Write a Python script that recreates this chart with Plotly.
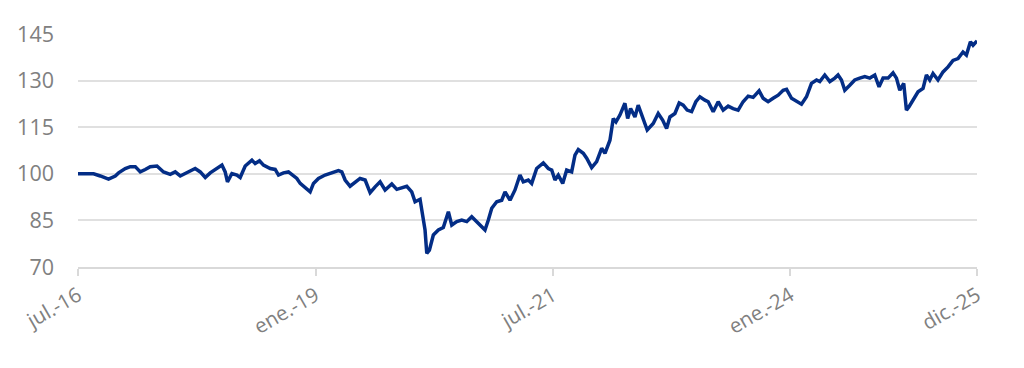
import pandas as pd
import plotly.graph_objects as go

start_date = "2016-07-01"
# months elapsed since jul.-16 for each reading
months = [0, 1.55, 1.97, 2.82, 3.86, 4.71, 5.13, 5.97, 6.61, 7.24, 7.87, 8.50, 9.13, 9.98,
          10.81, 11.66, 12.29, 12.92, 13.77, 14.81, 15.45, 16.08, 16.71, 17.56, 18.19, 18.60,
          18.89, 19.45, 20.08, 20.50, 21.13, 21.98, 22.39, 22.94, 23.44, 24.29, 24.92, 25.34,
          25.97, 26.60, 27.03, 27.66, 28.08, 28.71, 29.34, 29.76, 30.39, 31.23, 32.08, 32.91,
          33.34, 33.76, 34.39, 35.02, 35.65, 36.29, 36.92, 37.55, 38.18, 38.81, 39.66, 40.29,
          40.92, 41.55, 42.18, 42.60, 43.23, 43.57, 43.86, 44.08, 44.41, 44.91, 45.54, 46.17,
          46.81, 47.24, 47.87, 48.50, 49.13, 49.76, 50.18, 50.81, 51.44, 51.86, 52.29, 52.92,
          53.55, 53.97, 54.60, 55.23, 55.86, 56.28, 56.91, 57.34, 57.97, 58.81, 59.44, 59.87,
          60.28, 60.70, 61.26, 61.76, 62.39, 62.81, 63.23, 63.86, 64.29, 64.92, 65.55, 66.18,
          66.60, 67.23, 67.65, 67.99, 68.49, 69.12, 69.47, 69.84, 70.39, 70.80, 71.44, 71.94,
          72.70, 73.33, 73.89, 74.39, 74.81, 75.44, 75.98, 76.49, 76.99, 77.55, 78.09, 78.60,
          79.23, 79.65, 80.28, 80.91, 81.54, 82.17, 82.80, 83.43, 84.06, 84.70, 85.33, 86.08,
          86.59, 87.22, 87.85, 88.49, 89.12, 89.55, 90.18, 90.81, 91.44, 92.07, 92.70, 93.34,
          93.75, 94.38, 95.02, 95.65, 96.06, 96.49, 96.91, 97.54, 98.17, 98.80, 99.44, 100.07,
          100.70, 101.24, 101.75, 102.38, 103.01, 103.44, 103.86, 104.36, 104.70, 105.03,
          105.54, 106.17, 106.80, 107.23, 107.65, 108.06, 108.69, 109.33, 109.96, 110.59,
          111.22, 111.85, 112.28, 112.79, 113.12, 113.62]
values = [100.0, 100.0, 100.0, 99.3, 98.3, 99.3, 100.3, 101.7, 102.3, 102.3, 100.6, 101.4,
          102.3, 102.5, 100.6, 99.8, 100.6, 99.3, 100.3, 101.7, 100.6, 98.8, 100.3, 101.7,
          102.8, 100.6, 97.4, 100.1, 99.6, 98.8, 102.5, 104.4, 103.3, 104.2, 102.8, 101.7,
          101.4, 99.6, 100.3, 100.6, 99.6, 98.5, 96.9, 95.6, 94.2, 96.9, 98.5, 99.6, 100.3,
          101.0, 100.6, 98.0, 96.0, 97.4, 98.5, 98.0, 93.9, 95.8, 97.4, 94.8, 96.7, 95.0,
          95.6, 96.0, 94.2, 91.0, 91.8, 86.7, 81.9, 74.4, 75.4, 80.3, 81.9, 82.7, 87.8, 83.5,
          84.6, 85.1, 84.6, 86.2, 85.1, 83.5, 81.9, 85.1, 88.9, 91.0, 91.5, 94.2, 91.5, 94.8,
          99.6, 97.4, 98.0, 96.9, 101.7, 103.5, 101.7, 101.2, 98.0, 99.6, 96.9, 101.2, 100.6,
          106.0, 107.8, 106.6, 105.0, 102.0, 103.9, 108.2, 106.6, 110.8, 117.8, 116.7, 118.9,
          122.7, 117.8, 121.0, 118.3, 122.1, 117.8, 114.1, 116.2, 119.4, 117.3, 114.6, 118.3,
          119.4, 122.8, 122.1, 120.5, 120.0, 123.2, 124.8, 123.7, 123.2, 120.0, 123.2, 120.5,
          121.8, 121.0, 120.5, 123.2, 125.0, 124.6, 126.7, 124.3, 123.2, 124.3, 125.3, 126.9,
          127.2, 124.3, 123.2, 122.4, 124.8, 129.1, 130.2, 129.7, 131.8, 129.7, 130.8, 131.8,
          130.2, 126.9, 128.5, 130.2, 130.8, 131.3, 130.8, 131.8, 128.0, 130.8, 130.8, 132.5,
          130.8, 126.9, 129.1, 120.5, 121.6, 123.7, 126.4, 127.5, 131.8, 130.2, 132.3, 130.2,
          132.8, 134.4, 136.5, 137.1, 139.2, 138.2, 142.5, 141.4, 142.8]

x_tick_dates = ["2016-07-01", "2019-01-01", "2021-07-01", "2024-01-01"]
x_tick_labels = ["jul.-16", "ene.-19", "jul.-21", "ene.-24", "dic.-25"]
y_ticks = [70, 85, 100, 115, 130, 145]

t0 = pd.Timestamp(start_date)
dates = [t0 + pd.Timedelta(days=m * 30.4375) for m in months]
end_date = dates[-1]

fig = go.Figure()
fig.add_trace(go.Scatter(x=dates, y=values, mode="lines",
                         line=dict(color="#032D86", width=3.5), hoverinfo="skip"))

tick_vals = [pd.Timestamp(d) for d in x_tick_dates] + [end_date]

fig.update_layout(
    width=1024, height=368,
    margin=dict(l=78, r=47, t=34, b=101),
    paper_bgcolor="white", plot_bgcolor="white",
    showlegend=False,
    font=dict(family="Open Sans, sans-serif", color="#808080", size=20),
    xaxis=dict(
        range=[t0, end_date],
        tickvals=tick_vals, ticktext=x_tick_labels,
        tickangle=-30,
        showgrid=False, zeroline=False,
        showline=True, linecolor="#D9D9D9", linewidth=1.5,
        ticks="outside", ticklen=7, tickcolor="#D9D9D9", tickwidth=1.5,
        tickfont=dict(size=20.5, color="#808080"),
    ),
    yaxis=dict(
        range=[70, 145], tickvals=y_ticks,
        showgrid=True, gridcolor="#E0E0E0", gridwidth=1.5,
        zeroline=False, showline=False,
        ticklabelstandoff=23,
        tickfont=dict(size=21.5, color="#808080"),
    ),
)

fig.write_html("out.html")
